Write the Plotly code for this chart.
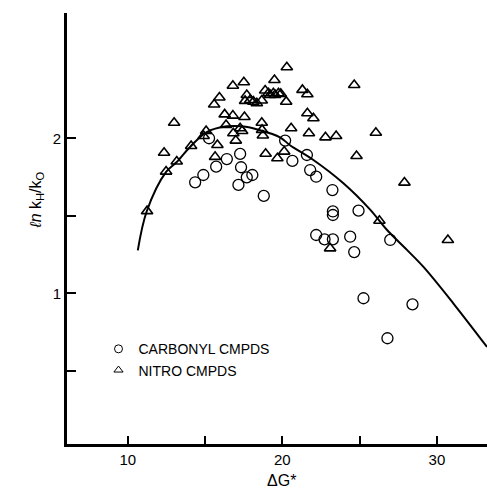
import plotly.graph_objects as go

# Carbonyl compounds (circles)
carbonyl_dG = [14.36, 14.89, 15.26, 15.72, 16.41, 17.27, 17.33, 17.16, 17.70, 18.06,
               18.80, 20.18, 20.65, 21.59, 21.80, 22.19, 23.24, 23.27, 23.27, 24.93,
               22.19, 22.73, 23.27, 24.39, 24.65, 26.98, 25.25, 28.42, 26.80]
carbonyl_ln = [1.716, 1.763, 2.000, 1.817, 1.866, 1.899, 1.813, 1.699, 1.748, 1.763,
               1.628, 1.985, 1.854, 1.892, 1.795, 1.752, 1.666, 1.528, 1.505, 1.533,
               1.376, 1.348, 1.348, 1.365, 1.266, 1.344, 0.968, 0.929, 0.710]

# Nitro compounds (triangles)
nitro_dG = [11.25, 12.35, 12.48, 13.00, 13.17, 14.10, 15.07, 14.91, 15.80, 15.65,
            15.59, 15.93, 16.27, 16.80, 16.36, 16.80, 17.51, 17.55, 16.83, 16.99,
            17.27, 17.40, 17.70, 17.59, 17.92, 18.13, 18.35, 18.67, 18.89, 19.10,
            19.21, 19.42, 19.53, 19.75, 19.90, 20.25, 19.49, 20.29, 21.30, 21.62,
            24.65, 21.62, 22.01, 18.67, 18.69, 18.74, 20.57, 21.72, 22.79, 23.48,
            26.05, 18.92, 20.12, 19.68, 24.80, 27.90, 26.28, 30.71, 23.09]
nitro_ln = [1.530, 1.907, 1.785, 2.100, 1.850, 1.950, 2.047, 2.015, 1.957, 1.880,
            2.218, 2.263, 2.154, 2.146, 2.086, 2.339, 2.361, 2.137, 2.032, 1.985,
            2.065, 2.047, 2.279, 2.241, 2.247, 2.236, 2.226, 2.244, 2.308, 2.290,
            2.279, 2.290, 2.279, 2.290, 2.286, 2.236, 2.376, 2.458, 2.312, 2.284,
            2.344, 2.161, 2.129, 2.100, 2.054, 2.018, 2.065, 2.032, 2.006, 2.015,
            2.036, 1.900, 1.914, 1.871, 1.886, 1.714, 1.468, 1.344, 1.290]

# Fitted curve
curve_dG = [10.65, 11.23, 12.48, 13.17, 14.03, 15.11, 16.41, 17.38, 18.56, 19.85,
            20.50, 22.01, 23.95, 25.68, 26.76, 28.06, 29.13, 31.07, 33.24]
curve_ln = [1.277, 1.529, 1.783, 1.847, 1.944, 2.040, 2.077, 2.077, 2.052, 2.006,
            1.955, 1.860, 1.710, 1.540, 1.410, 1.280, 1.170, 0.934, 0.654]

x_ticks = [10, 20, 30]
x_ticktext = ["10", "20", "30"]
x_minor_ticks = [15, 25]
y_ticks = [1, 2]
y_ticktext = ["1", "2"]
y_minor_ticks = [0.5, 1.5]

FONT = "Liberation Sans, Arial, sans-serif"

fig = go.Figure()
fig.add_trace(go.Scatter(x=curve_dG, y=curve_ln, mode="lines",
                         line=dict(color="black", width=2, shape="spline"),
                         showlegend=False, hoverinfo="skip"))
fig.add_trace(go.Scatter(x=carbonyl_dG, y=carbonyl_ln, mode="markers",
                         marker=dict(symbol="circle-open", size=11, color="black",
                                     line=dict(width=1.3, color="black")),
                         showlegend=False))
fig.add_trace(go.Scatter(x=nitro_dG, y=nitro_ln, mode="markers",
                         marker=dict(symbol="triangle-up-open", size=10, color="black",
                                     line=dict(width=1.6, color="black")),
                         showlegend=False))
# legend entries
fig.add_trace(go.Scatter(x=[None], y=[None], mode="markers", name="CARBONYL CMPDS",
                         marker=dict(symbol="circle-open", size=8, color="black",
                                     line=dict(width=1, color="black"))))
fig.add_trace(go.Scatter(x=[None], y=[None], mode="markers", name="NITRO CMPDS",
                         marker=dict(symbol="triangle-up-open", size=8, color="black",
                                     line=dict(width=1, color="black"))))

fig.update_layout(
    width=487, height=491,
    margin=dict(l=67, r=0, t=13, b=47),
    paper_bgcolor="white", plot_bgcolor="white",
    font=dict(family=FONT, color="black", size=14),
    legend=dict(x=0.075, y=0.257, xanchor="left", yanchor="top",
                bgcolor="rgba(0,0,0,0)", font=dict(size=14, family=FONT),
                tracegroupgap=0, itemwidth=30),
    xaxis=dict(range=[6.07, 33.24], showgrid=False, zeroline=False,
               showline=True, linecolor="black", linewidth=3,
               ticks="inside", ticklen=8, tickwidth=2, tickcolor="black",
               tickvals=x_ticks, ticktext=x_ticktext,
               minor=dict(tickvals=x_minor_ticks, ticks="inside", ticklen=8,
                          tickwidth=2, tickcolor="black", showgrid=False),
               tickfont=dict(size=15, family=FONT)),
    yaxis=dict(range=[0.028, 2.808], showgrid=False, zeroline=False,
               showline=True, linecolor="black", linewidth=3,
               ticks="inside", ticklen=9, tickwidth=2, tickcolor="black",
               tickvals=y_ticks, ticktext=y_ticktext,
               minor=dict(tickvals=y_minor_ticks, ticks="inside", ticklen=9,
                          tickwidth=2, tickcolor="black", showgrid=False),
               tickfont=dict(size=15, family=FONT)),
    annotations=[
        dict(text="ΔG*", xref="paper", yref="paper", x=(281 - 67) / 420, y=-0.085,
             xanchor="center", yanchor="middle", showarrow=False,
             font=dict(size=16, family=FONT)),
        dict(text="<i>ℓn</i> k<sub>H</sub>/k<sub>O</sub>", xref="paper", yref="paper",
             x=-0.075, y=(444 - 200) / 431, textangle=-90,
             xanchor="center", yanchor="middle", showarrow=False,
             font=dict(size=16, family=FONT)),
    ],
)

fig.write_html("out.html")
